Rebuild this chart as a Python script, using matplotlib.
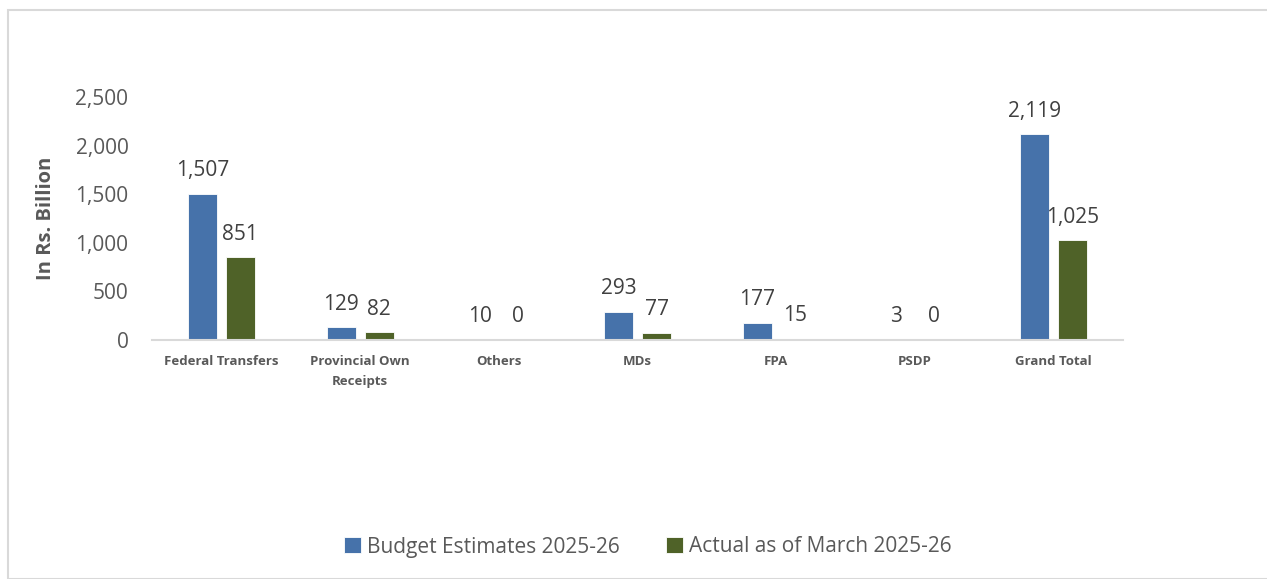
import numpy as np
import matplotlib.pyplot as plt
from matplotlib.patches import Rectangle

categories = ['Federal Transfers', 'Provincial Own\nReceipts', 'Others', 'MDs', 'FPA', 'PSDP', 'Grand Total']
budget = [1507, 129, 10, 293, 177, 3, 2119]
actual = [851, 82, 0, 77, 15, 0, 1025]
budget_labels = ['1,507', '129', '10', '293', '177', '3', '2,119']
actual_labels = ['851', '82', '0', '77', '15', '0', '1,025']
yticks = [0, 500, 1000, 1500, 2000, 2500]

plt.rcParams['font.family'] = ['Open Sans', 'DejaVu Sans']

fig = plt.figure(figsize=(12.67, 5.79), dpi=100)
# light frame round the chart area
fig.patches.append(Rectangle((8/1267, 0), 1.0, 1 - 10/579, transform=fig.transFigure,
                             fill=False, edgecolor='#d9d9d9', linewidth=1.5))

ax = fig.add_axes([152/1267, 1 - 340/579, (1123 - 152)/1267, (340 - 97)/579])

x = np.arange(len(categories))
w = 0.21
off = 0.137
b1 = ax.bar(x - off, budget, w, color='#4672aa', edgecolor='white', linewidth=0.6,
            label='Budget Estimates 2025-26')
b2 = ax.bar(x + off, actual, w, color='#4f6228', edgecolor='white', linewidth=0.6,
            label='Actual as of March 2025-26')

for rects, labs in [(b1, budget_labels), (b2, actual_labels)]:
    for r, t in zip(rects, labs):
        ax.annotate(t, (r.get_x() + r.get_width() / 2, r.get_height()),
                    xytext=(0, 9), textcoords='offset points', ha='center', va='bottom',
                    fontsize=15, color='#404040')

ax.set_xlim(-0.5, len(categories) - 0.5)
ax.set_ylim(0, 2500)
ax.set_yticks(yticks)
ax.set_yticklabels([f'{v:,}' for v in yticks], fontsize=15, color='#595959')
ax.set_xticks(x)
ax.set_xticklabels(categories, fontsize=9.5, fontweight='bold', color='#595959', linespacing=1.7)
ax.tick_params(axis='both', length=0)
ax.tick_params(axis='y', pad=17)
ax.tick_params(axis='x', pad=11)
for s in ['top', 'right', 'left']:
    ax.spines[s].set_visible(False)
ax.spines['bottom'].set_color('#d9d9d9')
ax.spines['bottom'].set_linewidth(1.5)

ax.set_ylabel('In Rs. Billion', fontsize=14.5, fontweight='bold', color='#595959', labelpad=14)

fig.legend(handles=[b1, b2], loc='center', bbox_to_anchor=(648/1267, 1 - 547/579), ncol=2,
           frameon=False, fontsize=15, handlelength=0.8, handleheight=0.8,
           handletextpad=0.3, columnspacing=2.2, labelcolor='#595959')

fig.savefig('out.png', dpi=100)
